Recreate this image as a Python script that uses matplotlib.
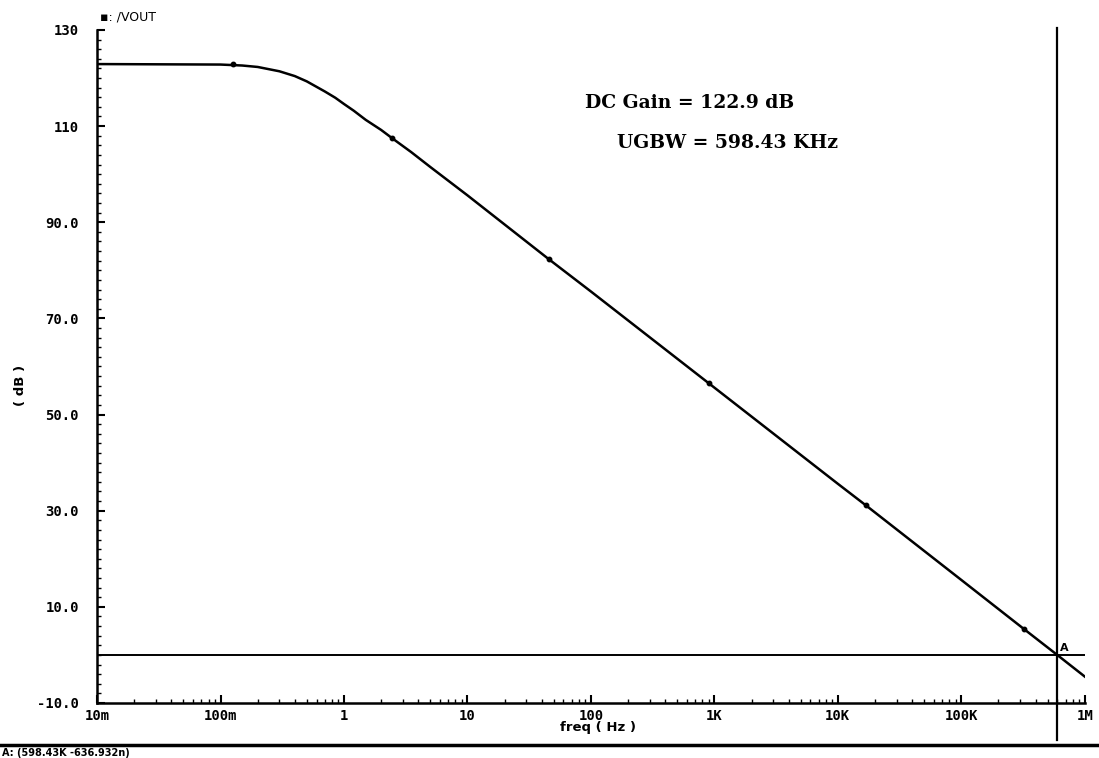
import numpy as np
from matplotlib import pyplot as plt
from matplotlib.ticker import FixedLocator, NullFormatter

# magnitude of /VOUT (Hz, dB)
freq = [0.01, 0.1, 0.15, 0.2, 0.3, 0.4, 0.5, 0.7, 0.85, 1.0, 1.2, 1.5, 2.0, 2.45,
        3.5, 5.0, 10.0, 45.7, 100.0, 902.0, 1.0e4, 1.69e4, 1.0e5, 3.25e5,
        5.9843e5, 1.0e6]
gain = [122.9, 122.8, 122.6, 122.3, 121.4, 120.4, 119.3, 117.2, 115.9, 114.6,
        113.2, 111.3, 109.2, 107.5, 104.6, 101.5, 95.6, 82.3, 75.6, 56.5, 35.6,
        31.1, 15.6, 5.3, 0.0, -4.5]

# points where the simulator put its trace markers
markFreq = [0.126, 2.45, 45.7, 902.0, 1.69e4, 3.25e5]
markGain = [122.9, 107.5, 82.3, 56.5, 31.1, 5.3]

xTicks = [1e-2, 1e-1, 1, 10, 100, 1e3, 1e4, 1e5, 1e6]
xLabels = ['10m', '100m', '1', '10', '100', '1K', '10K', '100K', '1M']
yTicks = [130, 110, 90, 70, 50, 30, 10, -10]
yLabels = ['130', '110', '90.0', '70.0', '50.0', '30.0', '10.0', '-10.0']

ugbw = 598.43e3

fig = plt.figure(figsize=(10.99, 7.58), dpi=100)
ax = fig.add_axes([0.0883, 0.0726, 0.8987, 0.8879])

ax.plot(freq, gain, color='black', lw=1.8)
ax.plot(markFreq, markGain, ls='none', marker='o', ms=3.2, color='black')

ax.set_xscale('log')
ax.set_xlim(1e-2, 1e6)
ax.set_ylim(-10, 130)

# cursor lines
ax.axhline(0, color='black', lw=1.4)
ax.axvline(ugbw, ymin=-0.055, ymax=1.003, color='black', lw=1.6, clip_on=False)
ax.text(6.3e5, 0.8, 'A', fontsize=8, fontweight='bold', family='DejaVu Sans')

for s in ['top', 'right']:
    ax.spines[s].set_visible(False)
for s in ['left', 'bottom']:
    ax.spines[s].set_linewidth(1.8)

ax.set_xticks(xTicks)
ax.set_xticklabels(xLabels)
ax.xaxis.set_minor_locator(FixedLocator(
    [m * 10.0 ** e for e in range(-2, 6) for m in range(2, 10)]))
ax.xaxis.set_minor_formatter(NullFormatter())
ax.set_yticks(yTicks)
ax.set_yticklabels(yLabels)
ax.yaxis.set_minor_locator(FixedLocator(np.arange(-10, 131, 2)))

ax.tick_params(which='major', direction='in', length=6, width=1.5)
ax.tick_params(which='minor', direction='in', length=3, width=1.0)
ax.tick_params(axis='y', pad=13)
ax.tick_params(axis='x', pad=4)
for lab in ax.get_xticklabels() + ax.get_yticklabels():
    lab.set_family('DejaVu Sans Mono')
    lab.set_fontweight('bold')
    lab.set_fontsize(10)

fig.text(0.544, 0.040, 'freq ( Hz )', family='DejaVu Sans', fontweight='bold',
         fontsize=9.5, ha='center', va='center')
fig.text(0.019, 0.492, '( dB )', family='DejaVu Sans', fontweight='bold',
         fontsize=9.5, rotation=90, ha='center', va='center')

fig.text(0.091, 0.977, '\u25aa: /VOUT', fontsize=9, family='DejaVu Sans', va='center')

fig.text(0.532, 0.864, 'DC Gain = 122.9 dB', fontsize=13.5, fontweight='bold',
         family='DejaVu Serif', va='center')
fig.text(0.561, 0.811, 'UGBW = 598.43 KHz', fontsize=13.5, fontweight='bold',
         family='DejaVu Serif', va='center')

# status line at the bottom
fig.add_artist(plt.Line2D([0, 1], [0.017, 0.017], color='black', lw=2.5,
                          transform=fig.transFigure))
fig.text(0.002, 0.006, 'A: (598.43K -636.932n)', fontsize=7, fontweight='bold',
         family='DejaVu Sans', va='center')

fig.savefig('out.png', dpi=100)
